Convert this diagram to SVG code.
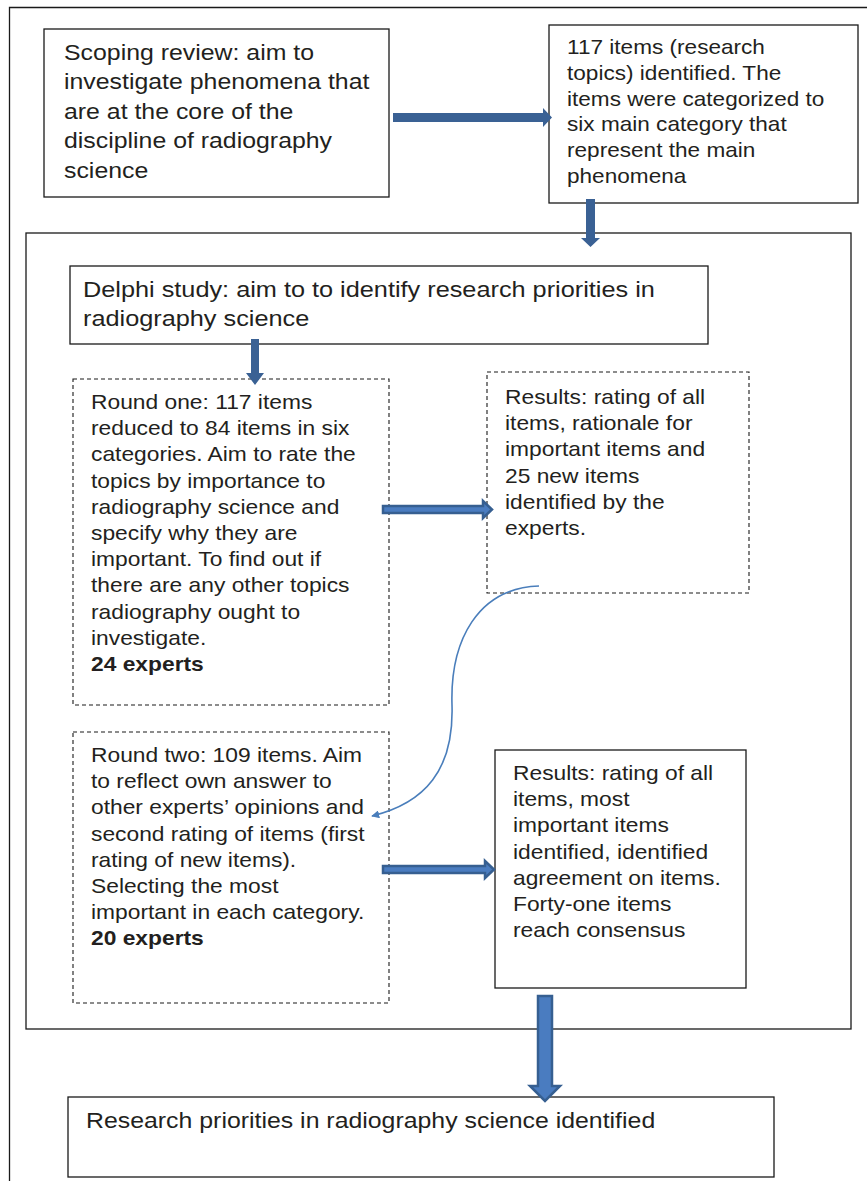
<svg xmlns="http://www.w3.org/2000/svg" width="867" height="1181" viewBox="0 0 867 1181">
<style>
.box{fill:#fff;stroke:#1a1a1a;stroke-width:1.3}
.dash{fill:#fff;stroke:#1a1a1a;stroke-width:1.1;stroke-dasharray:4 3}
.t{font-family:"Liberation Sans",Arial,sans-serif;fill:#231f20}
.b{font-size:20px}
.l{font-size:22px}
.bold{font-weight:bold}
.arr{fill:#3a6194}
.arr2{fill:#4a7cc0;stroke:#365f91;stroke-width:2.5}
.curve{fill:none;stroke:#4a7ebb;stroke-width:1.6}
</style>
<defs>
<marker id="ah" viewBox="0 0 10 10" refX="9" refY="5" markerWidth="5" markerHeight="5" orient="auto" markerUnits="strokeWidth">
<path d="M0,0 L10,5 L0,10 z" fill="#4a7ebb"/>
</marker>
</defs>
<rect width="867" height="1181" fill="#fff"/>
<g id="frame">
<path d="M9.5,1181 V7.5 H867" fill="none" stroke="#1a1a1a" stroke-width="1.3"/>
</g>
<g id="container">
<rect class="box" x="26" y="233" width="825" height="796"/>
</g>
<g id="scoping">
<rect class="box" x="44" y="29" width="345" height="168"/>
<g transform="translate(64,0) scale(1.13,1)">
<text class="t l" x="0" y="60">Scoping review: aim to</text>
<text class="t l" x="0" y="89.5">investigate phenomena that</text>
<text class="t l" x="0" y="119">are at the core of the</text>
<text class="t l" x="0" y="148.5">discipline of radiography</text>
<text class="t l" x="0" y="178">science</text>
</g>
</g>
<g id="items117">
<rect class="box" x="549" y="25" width="309" height="178"/>
<g transform="translate(567,0) scale(1.13,1)">
<text class="t b" x="0" y="54">117 items (research</text>
<text class="t b" x="0" y="80">topics) identified. The</text>
<text class="t b" x="0" y="106">items were categorized to</text>
<text class="t b" x="0" y="131">six main category that</text>
<text class="t b" x="0" y="157">represent the main</text>
<text class="t b" x="0" y="183">phenomena</text>
</g>
</g>
<g id="delphi">
<rect class="box" x="70" y="266" width="638" height="78"/>
<g transform="translate(83,0) scale(1.15,1)">
<text class="t l" x="0" y="297">Delphi study: aim to to identify research priorities in</text>
<text class="t l" x="0" y="326">radiography science</text>
</g>
</g>
<g id="round1">
<rect class="dash" x="73" y="379" width="316" height="326"/>
<g transform="translate(91,0) scale(1.14,1)">
<text class="t b" x="0" y="409">Round one: 117 items</text>
<text class="t b" x="0" y="435.2">reduced to 84 items in six</text>
<text class="t b" x="0" y="461.4">categories. Aim to rate the</text>
<text class="t b" x="0" y="487.6">topics by importance to</text>
<text class="t b" x="0" y="513.8">radiography science and</text>
<text class="t b" x="0" y="540">specify why they are</text>
<text class="t b" x="0" y="566.2">important. To find out if</text>
<text class="t b" x="0" y="592.4">there are any other topics</text>
<text class="t b" x="0" y="618.6">radiography ought to</text>
<text class="t b" x="0" y="644.8">investigate.</text>
<text class="t b bold" x="0" y="671">24 experts</text>
</g>
</g>
<g id="results1">
<rect class="dash" x="487" y="372" width="262" height="221"/>
<g transform="translate(505,0) scale(1.14,1)">
<text class="t b" x="0" y="404">Results: rating of all</text>
<text class="t b" x="0" y="430.2">items, rationale for</text>
<text class="t b" x="0" y="456.4">important items and</text>
<text class="t b" x="0" y="482.6">25 new items</text>
<text class="t b" x="0" y="508.8">identified by the</text>
<text class="t b" x="0" y="535">experts.</text>
</g>
</g>
<g id="round2">
<rect class="dash" x="73" y="732" width="316" height="271"/>
<g transform="translate(91,0) scale(1.14,1)">
<text class="t b" x="0" y="762">Round two: 109 items. Aim</text>
<text class="t b" x="0" y="788.2">to reflect own answer to</text>
<text class="t b" x="0" y="814.4">other experts’ opinions and</text>
<text class="t b" x="0" y="840.6">second rating of items (first</text>
<text class="t b" x="0" y="866.8">rating of new items).</text>
<text class="t b" x="0" y="893">Selecting the most</text>
<text class="t b" x="0" y="919.2">important in each category.</text>
<text class="t b bold" x="0" y="945.4">20 experts</text>
</g>
</g>
<g id="results2">
<rect class="box" x="495" y="750" width="251" height="238"/>
<g transform="translate(513,0) scale(1.14,1)">
<text class="t b" x="0" y="780">Results: rating of all</text>
<text class="t b" x="0" y="806.2">items, most</text>
<text class="t b" x="0" y="832.4">important items</text>
<text class="t b" x="0" y="858.6">identified, identified</text>
<text class="t b" x="0" y="884.8">agreement on items.</text>
<text class="t b" x="0" y="911">Forty-one items</text>
<text class="t b" x="0" y="937.2">reach consensus</text>
</g>
</g>
<g id="final">
<rect class="box" x="68" y="1097" width="706" height="80"/>
<g transform="translate(86,0) scale(1.13,1)">
<text class="t l" x="0" y="1128">Research priorities in radiography science identified</text>
</g>
</g>
<g id="connectors">
<polygon class="arr" points="393,113 543,113 543,108 552,117.5 543,127 543,122 393,122"/>
<polygon class="arr" points="586,199 595,199 595,238 600,238 590.5,247 581,238 586,238"/>
<polygon class="arr" points="251,339 259,339 259,373 264,373 255,385 246,373 251,373"/>
<polygon class="arr2" points="383,506 483,506 483,501 492,509.5 483,518 483,513 383,513"/>
<polygon class="arr2" points="383,866 485,866 485,861 494,869.5 485,878 485,873 383,873"/>
<polygon class="arr2" points="538,996 552,996 552,1086 560,1086 545,1101 530,1086 538,1086"/>
<path class="curve" d="M539,586 C478,588 450,640 452,705 C454,770 425,803 372,816" marker-end="url(#ah)"/>
</g>
</svg>
